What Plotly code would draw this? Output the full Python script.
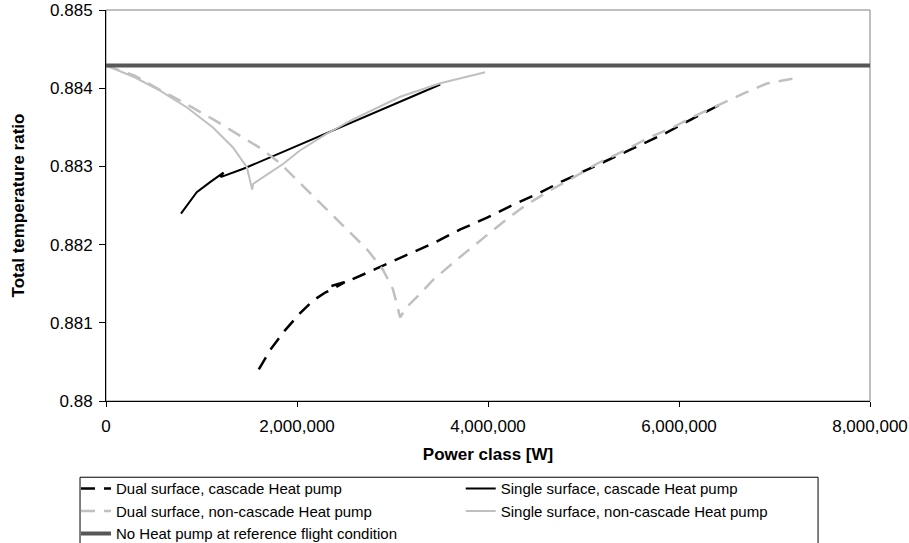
import plotly.graph_objects as go

# ---- data ----
dual_cascade_x = [1600e3, 1717e3, 1874e3, 2030e3, 2170e3, 2300e3, 2380e3, 2500e3, 2360e3, 2555e3,
                  2830e3, 3190e3, 3450e3, 3710e3, 3990e3, 4250e3, 4520e3, 4760e3, 5060e3,
                  5320e3, 5590e3, 5860e3, 6120e3, 6390e3, 6480e3]
dual_cascade_y = [0.880405, 0.880648, 0.880904, 0.881121, 0.881287, 0.881390, 0.881436, 0.881520, 0.881470, 0.881543,
                  0.881692, 0.881884, 0.882032, 0.882194, 0.882344, 0.882501, 0.882650, 0.882799, 0.882970,
                  0.883118, 0.883277, 0.883425, 0.883596, 0.883770, 0.883821]

single_cascade_x = [785e3, 870e3, 950e3, 1090e3, 1230e3, 1200e3, 1438e3, 1890e3, 2500e3, 3000e3, 3500e3]
single_cascade_y = [0.882395, 0.882540, 0.882671, 0.882799, 0.882920, 0.882863, 0.882970, 0.883204,
                    0.883521, 0.883781, 0.884047]

dual_noncascade_x = [0, 300e3, 565e3, 775e3, 1141e3, 1403e3, 1613e3, 1822e3, 2030e3, 2377e3, 2733e3,
                     2900e3, 3005e3, 3080e3, 3150e3, 3306e3, 3420e3, 3714e3, 4150e3, 4390e3, 4650e3,
                     4890e3, 5140e3, 5410e3, 5660e3, 5940e3, 6190e3, 6430e3, 6690e3, 6920e3, 7280e3]
dual_noncascade_y = [0.884290, 0.884160, 0.883980, 0.883843, 0.883588, 0.883396, 0.883235, 0.883040, 0.882790,
                     0.882360, 0.881940, 0.881680, 0.881430, 0.881070, 0.881201, 0.881393, 0.881543,
                     0.881849, 0.882280, 0.882501, 0.882693, 0.882855, 0.883034, 0.883191, 0.883353,
                     0.883502, 0.883660, 0.883792, 0.883940, 0.884060, 0.884141]

single_noncascade_x = [0, 42e3, 300e3, 565e3, 848e3, 1120e3, 1330e3, 1476e3, 1530e3, 1542e3, 1700e3,
                       1857e3, 2030e3, 2300e3, 2550e3, 3080e3, 3500e3, 3970e3]
single_noncascade_y = [0.884290, 0.884268, 0.884140, 0.883970, 0.883753, 0.883497, 0.883242, 0.882986,
                       0.882705, 0.882778, 0.882910, 0.883034, 0.883204, 0.883410, 0.883580, 0.883890,
                       0.884064, 0.884204]

reference_x = [0, 8e6]
reference_y = [0.88429, 0.88429]

series_names = ["Dual surface, cascade Heat pump",
                "Single surface, cascade Heat pump",
                "Dual surface, non-cascade Heat pump",
                "Single surface, non-cascade Heat pump",
                "No Heat pump at reference flight condition"]

x_tick_vals = [0, 2e6, 4e6, 6e6, 8e6]
x_tick_text = ["0", "2,000,000", "4,000,000", "6,000,000", "8,000,000"]
y_tick_vals = [0.88, 0.881, 0.882, 0.883, 0.884, 0.885]
y_tick_text = ["0.88", "0.881", "0.882", "0.883", "0.884", "0.885"]

FONT = "Liberation Sans, Arial, sans-serif"

fig = go.Figure()
fig.add_trace(go.Scatter(x=dual_cascade_x, y=dual_cascade_y, mode="lines", name=series_names[0],
                         legend="legend", legendrank=1,
                         line=dict(color="#000000", width=2.5, dash="14px,9px")))
fig.add_trace(go.Scatter(x=single_cascade_x, y=single_cascade_y, mode="lines", name=series_names[1],
                         legend="legend2", legendrank=1,
                         line=dict(color="#000000", width=2)))
fig.add_trace(go.Scatter(x=dual_noncascade_x, y=dual_noncascade_y, mode="lines", name=series_names[2],
                         legend="legend", legendrank=2,
                         line=dict(color="#C0C0C0", width=2.5, dash="14px,9px")))
fig.add_trace(go.Scatter(x=single_noncascade_x, y=single_noncascade_y, mode="lines", name=series_names[3],
                         legend="legend2", legendrank=2,
                         line=dict(color="#C0C0C0", width=2)))
fig.add_trace(go.Scatter(x=reference_x, y=reference_y, mode="lines", name=series_names[4],
                         legend="legend", legendrank=3,
                         line=dict(color="#575757", width=4)))

legend_common = dict(orientation="v", xanchor="left", yanchor="top", y=-0.1823,
                     itemwidth=30, borderwidth=0, bgcolor="rgba(0,0,0,0)",
                     font=dict(family=FONT, size=15, color="black"), traceorder="normal")

fig.update_layout(
    width=909, height=543,
    margin=dict(l=106, r=39, t=9.5, b=142.3, autoexpand=False),
    paper_bgcolor="white", plot_bgcolor="white",
    font=dict(family=FONT, size=17, color="black"),
    showlegend=True,
    legend=dict(x=-0.0393, **legend_common),
    legend2=dict(x=0.4643, **legend_common),
    shapes=[dict(type="rect", xref="paper", yref="paper", x0=0, x1=1, y0=0, y1=1,
                 line=dict(color="#808080", width=1), layer="below"),
            dict(type="rect", xref="paper", yref="paper", x0=-0.034, x1=0.932, y0=-0.37, y1=-0.195,
                 line=dict(color="#000000", width=1), fillcolor="rgba(0,0,0,0)", layer="above")],
)

fig.update_xaxes(range=[0, 8e6], tickvals=x_tick_vals, ticktext=x_tick_text,
                 showgrid=False, zeroline=False, showline=True, linecolor="black", linewidth=1,
                 ticks="outside", ticklen=5, tickcolor="black", ticklabelstandoff=5,
                 tickfont=dict(family=FONT, size=17),
                 title=dict(text="<b>Power class [W]</b>", font=dict(family=FONT, size=17), standoff=12))
fig.update_yaxes(range=[0.88, 0.885], tickvals=y_tick_vals, ticktext=y_tick_text,
                 showgrid=False, zeroline=False, showline=True, linecolor="black", linewidth=1,
                 ticks="outside", ticklen=6, tickcolor="black", ticklabelstandoff=3,
                 tickfont=dict(family=FONT, size=17),
                 title=dict(text="<b>Total temperature ratio</b>", font=dict(family=FONT, size=17), standoff=21))

fig.write_html("out.html", config={"displayModeBar": False},
               post_script="document.body.style.margin='0px';")
